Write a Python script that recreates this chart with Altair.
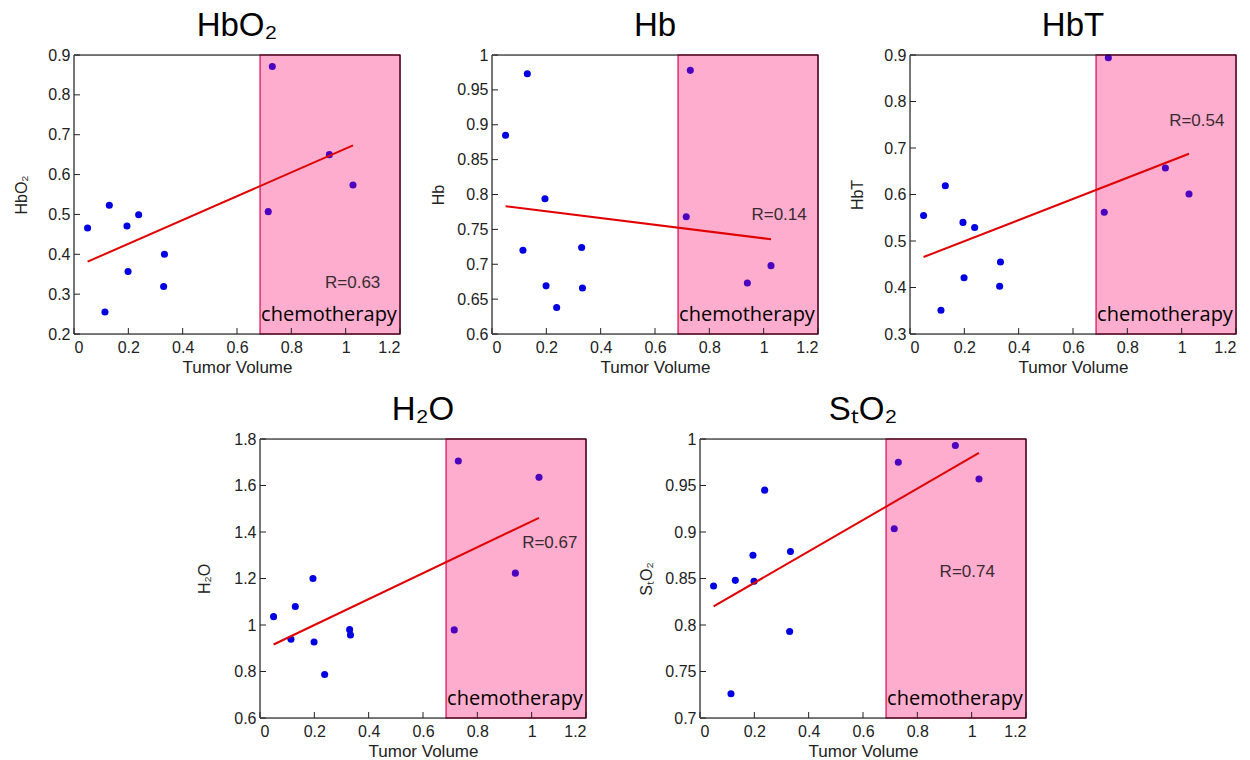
import altair as alt
import pandas as pd

# ---------------- data ----------------
tumor_volume = [0.05, 0.114, 0.13, 0.195, 0.199, 0.238, 0.33, 0.333, 0.715, 0.73, 0.94, 1.027]
hbo2 = [0.466, 0.255, 0.523, 0.471, 0.357, 0.499, 0.319, 0.400, 0.507, 0.871, 0.650, 0.574]
hb = [0.885, 0.720, 0.973, 0.794, 0.669, 0.638, 0.724, 0.666, 0.768, 0.978, 0.673, 0.698]
hbt = [0.555, 0.351, 0.619, 0.540, 0.421, 0.529, 0.4025, 0.455, 0.562, 0.894, 0.657, 0.601]
h2o = [1.036, 0.939, 1.0795, 1.200, 0.927, 0.787, 0.980, 0.957, 0.979, 1.705, 1.223, 1.635]
sto2 = [0.842, 0.726, 0.848, 0.875, 0.847, 0.945, 0.793, 0.879, 0.9035, 0.975, 0.993, 0.957]

x_ticks = [0, 0.2, 0.4, 0.6, 0.8, 1.0, 1.2]
hbo2_ticks = [0.2, 0.3, 0.4, 0.5, 0.6, 0.7, 0.8, 0.9]
hb_ticks = [0.6, 0.65, 0.7, 0.75, 0.8, 0.85, 0.9, 0.95, 1.0]
hbt_ticks = [0.3, 0.4, 0.5, 0.6, 0.7, 0.8, 0.9]
h2o_ticks = [0.6, 0.8, 1.0, 1.2, 1.4, 1.6, 1.8]
sto2_ticks = [0.7, 0.75, 0.8, 0.85, 0.9, 0.95, 1.0]

titles = ["HbO\u2082", "Hb", "HbT", "H\u2082O", "S\u209cO\u2082"]
r_labels = ["R=0.63", "R=0.14", "R=0.54", "R=0.67", "R=0.74"]
r_pos_x = [0.924, 0.955, 0.954, 0.965, 0.882]
r_pos_y = [0.328, 0.770, 0.759, 1.352, 0.857]
chemo_start = 0.685
chemo_end = 1.2
chemo_label = "chemotherapy"

W, H = 326, 279
FONT = "Liberation Sans"


def panel(title, ys, ydom, yticks, rlabel, rx, ry, tpad):
    df = pd.DataFrame({"x": tumor_volume, "y": ys})
    xscale = alt.Scale(domain=[0, 1.2], nice=False, zero=False)
    yscale = alt.Scale(domain=ydom, nice=False, zero=False)
    xaxis = alt.Axis(values=x_ticks, format="~g", tickSize=0, domain=False, grid=False,
                     labelPadding=5, labelFontSize=16, labelFont=FONT, labelColor="#222",
                     title="Tumor Volume", titleFontSize=17, titleFont=FONT,
                     titleFontWeight="normal", titleColor="#222", titlePadding=4)
    yaxis = alt.Axis(values=yticks, format="~g", tickSize=0, domain=False, grid=False,
                     labelPadding=4, labelFontSize=16, labelFont=FONT, labelColor="#222",
                     title=title, titleFontSize=16, titleFont=FONT,
                     titleFontWeight="normal", titleColor="#222", titlePadding=tpad)

    def X(f):
        return alt.X(f"{f}:Q", scale=xscale, axis=xaxis)

    def Y(f):
        return alt.Y(f"{f}:Q", scale=yscale, axis=yaxis)

    rect = alt.Chart(pd.DataFrame({"x0": [chemo_start], "x1": [chemo_end]})).mark_rect(
        fill="#FFADCE", stroke="#E0306A", strokeWidth=1.5
    ).encode(x=X("x0"), x2="x1", y=alt.value(0), y2=alt.value(H))

    pts = alt.Chart(df).mark_circle(size=50, opacity=1).encode(
        x=X("x"), y=Y("y"),
        color=alt.condition("datum.x > 0.6", alt.value("#4B00C0"), alt.value("#0000E0")),
    )

    reg = alt.Chart(df).transform_regression("x", "y").mark_line(
        color="#E00000", strokeWidth=2
    ).encode(x=X("x"), y=Y("y"))

    rtxt = alt.Chart(pd.DataFrame({"x": [rx], "y": [ry], "label": [rlabel]})).mark_text(
        align="left", baseline="middle", fontSize=17, font=FONT, color="#3a2a30"
    ).encode(x=X("x"), y=Y("y"), text="label:N")

    ctxt = alt.Chart(pd.DataFrame({"x": [chemo_start], "label": [chemo_label]})).mark_text(
        align="left", baseline="alphabetic", fontSize=20, font="Open Sans", color="black", dx=1
    ).encode(x=X("x"), y=alt.value(H - 13), text="label:N")

    frame = alt.Chart(pd.DataFrame({"a": [0]})).mark_rect(
        fillOpacity=0, stroke="black", strokeWidth=1
    ).encode(x=alt.value(0), x2=alt.value(W), y=alt.value(0), y2=alt.value(H))

    ydomain_line = alt.Chart(pd.DataFrame({"a": [0]})).mark_rule(
        color="#777", strokeWidth=1.5
    ).encode(x=alt.value(0), y=alt.value(0), y2=alt.value(H))

    yt = alt.Chart(pd.DataFrame({"t": yticks})).mark_rule(color="#222", strokeWidth=1).encode(
        y=Y("t"), x=alt.value(0), x2=alt.value(6))
    xt = alt.Chart(pd.DataFrame({"t": x_ticks})).mark_rule(color="#222", strokeWidth=1).encode(
        x=X("t"), y=alt.value(H), y2=alt.value(H - 6))

    return alt.layer(rect, pts, reg, rtxt, ctxt, frame, ydomain_line, yt, xt).properties(
        width=W, height=H,
        title=alt.TitleParams(title, fontSize=33, font=FONT, fontWeight="normal",
                              anchor="middle", offset=4, color="black"),
    )


p1 = panel(titles[0], hbo2, [0.2, 0.9], hbo2_ticks, r_labels[0], r_pos_x[0], r_pos_y[0], 18)
p2 = panel(titles[1], hb, [0.6, 1.0], hb_ticks, r_labels[1], r_pos_x[1], r_pos_y[1], 10)
p3 = panel(titles[2], hbt, [0.3, 0.9], hbt_ticks, r_labels[2], r_pos_x[2], r_pos_y[2], 18)
p4 = panel(titles[3], h2o, [0.6, 1.8], h2o_ticks, r_labels[3], r_pos_x[3], r_pos_y[3], 21)
p5 = panel(titles[4], sto2, [0.7, 1.0], sto2_ticks, r_labels[4], r_pos_x[4], r_pos_y[4], 10)

spacer = alt.Chart(pd.DataFrame({"a": [0]})).mark_point(opacity=0).encode(
    x=alt.value(0), y=alt.value(0)).properties(
        width=72, height=H, view=alt.ViewBackground(stroke="transparent", strokeWidth=0))

top = alt.hconcat(p1, p2, p3, spacing=92, bounds="flush")
bottom = alt.hconcat(spacer, p4, p5, spacing=114, bounds="flush")

chart = alt.vconcat(top, bottom, spacing=17).properties(
    padding={"left": 13, "top": 9, "right": 5, "bottom": 5},
).configure_view(stroke="transparent", strokeWidth=0).configure(background="white")

chart.save("out.html", embed_options={"renderer": "svg", "actions": False})
